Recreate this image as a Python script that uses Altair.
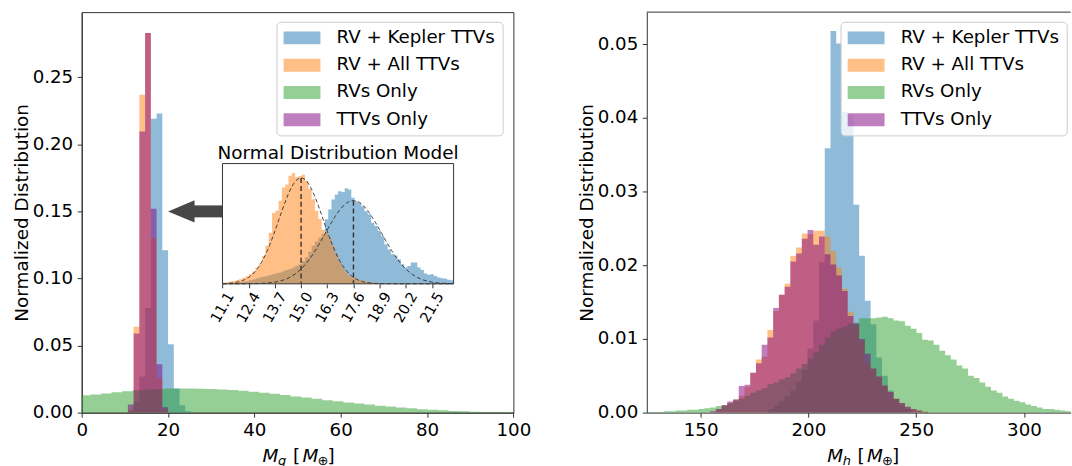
import altair as alt
import pandas as pd

FONT = "DejaVu Sans"
INK = "#333333"
ARROW_INK = "#474747"

SERIES = ["RV + Kepler TTVs", "RV + All TTVs", "RVs Only", "TTVs Only"]
COLORS = ["#1f77b4", "#ff7f0e", "#2ca02c", "#800080"]

# ---------------- Left panel (M_g) ----------------
LEFT_BIN_START = 10.7
LEFT_BIN_WIDTH = 1.33
left_kepler = [0.001, 0.008, 0.027, 0.078, 0.219, 0.223, 0.121, 0.051, 0.018, 0.0055, 0.001]
left_all = [0.002, 0.064, 0.237, 0.283, 0.130, 0.026, 0.002]
left_ttv = [0.006, 0.059, 0.2095, 0.283, 0.152, 0.036, 0.004]
LEFT_RV_START = -0.4
LEFT_RV_WIDTH = 2.44
left_rv = [0.0130, 0.0135, 0.0143, 0.0152, 0.0160, 0.0166, 0.0172, 0.0176, 0.0180, 0.0180,
           0.0179, 0.0178, 0.0177, 0.0173, 0.0168, 0.0163, 0.0156, 0.0148, 0.0140, 0.0131,
           0.0121, 0.0112, 0.0103, 0.0093, 0.0085, 0.0076, 0.0068, 0.0060, 0.0052, 0.0045,
           0.0038, 0.0032, 0.0026, 0.0021, 0.0017, 0.0013, 0.0010, 0.0007, 0.0005, 0.0004,
           0.0003, 0.0002]
LEFT_X_DOMAIN = [0, 100]
LEFT_Y_DOMAIN = [0, 0.2985]
LEFT_X_TICKS = [0, 20, 40, 60, 80, 100]
LEFT_Y_TICKS = [0.0, 0.05, 0.10, 0.15, 0.20, 0.25]

# ---------------- Right panel (M_h) ----------------
RIGHT_BIN_ORIGIN = 199.6
RIGHT_BIN_WIDTH = 2.66
right_kepler_first = -7
right_kepler = [0.0005, 0.001, 0.0015, 0.0022, 0.003, 0.0042, 0.0058, 0.0087, 0.0125, 0.0204,
                0.0359, 0.0518, 0.0501, 0.0408, 0.0405, 0.0282, 0.0213, 0.0152, 0.012, 0.0075,
                0.005, 0.003, 0.0018, 0.001, 0.0005]
right_all_first = -16
right_all = [0.0005, 0.001, 0.0013, 0.0017, 0.0023, 0.0035, 0.0054, 0.0072, 0.0076, 0.0112,
             0.0138, 0.016, 0.0175, 0.0213, 0.0224, 0.0243, 0.0242, 0.0247, 0.0247, 0.0239,
             0.0219, 0.0197, 0.0168, 0.0137, 0.0118, 0.0097, 0.0067, 0.006, 0.0049, 0.0037,
             0.0028, 0.0019, 0.0013, 0.0008, 0.0005, 0.0003, 0.0002, 0.0001]
right_rv_first = -28
right_rv = [0.0001, 0.0001, 0.0001, 0.0002, 0.0002, 0.0003, 0.0003, 0.0004, 0.0004, 0.0005,
            0.0006, 0.0007, 0.0009, 0.001, 0.0013, 0.0016, 0.0019, 0.0023, 0.0027, 0.003,
            0.0033, 0.0039, 0.0041, 0.0045, 0.0048, 0.0053, 0.006, 0.0066, 0.0073, 0.0082,
            0.0092, 0.0102, 0.011, 0.0114, 0.0117, 0.0121, 0.0122, 0.0128, 0.0128, 0.0128,
            0.0129, 0.013, 0.0128, 0.0125, 0.0124, 0.0118, 0.0114, 0.0108, 0.0099, 0.0098,
            0.0092, 0.0084, 0.0078, 0.0072, 0.0064, 0.006, 0.005, 0.0047, 0.0041, 0.0035,
            0.003, 0.0027, 0.0022, 0.0019, 0.0016, 0.0014, 0.0011, 0.0009, 0.0007, 0.0005,
            0.0005, 0.0004, 0.0003, 0.0002, 0.0002]
right_ttv_first = -17
right_ttv = [0.0002, 0.0005, 0.001, 0.0015, 0.0018, 0.0036, 0.0038, 0.0054, 0.0067, 0.0092,
             0.0102, 0.0142, 0.016, 0.0171, 0.0205, 0.0216, 0.0236, 0.0248, 0.0228, 0.0239,
             0.0215, 0.0201, 0.0186, 0.0165, 0.0131, 0.0121, 0.0100, 0.0080, 0.0060, 0.0049,
             0.0037, 0.0028, 0.0019, 0.0013, 0.0008, 0.0005, 0.0003, 0.0001]
RIGHT_X_DOMAIN = [125, 321.7]
RIGHT_Y_DOMAIN = [0, 0.05436]
RIGHT_X_TICKS = [150, 200, 250, 300]
RIGHT_Y_TICKS = [0.0, 0.01, 0.02, 0.03, 0.04, 0.05]

# ---------------- Inset (Normal Distribution Model) ----------------
INSET_START = 11.1
INSET_WIDTH = 0.1639
inset_all = [0.004, 0.005, 0.008, 0.010, 0.013, 0.016, 0.021, 0.026, 0.034, 0.042,
             0.055, 0.070, 0.095, 0.130, 0.175, 0.243, 0.250, 0.285, 0.330, 0.340,
             0.370, 0.380, 0.365, 0.369, 0.374, 0.352, 0.325, 0.290, 0.250, 0.222,
             0.185, 0.175, 0.158, 0.130, 0.101, 0.076, 0.056, 0.039, 0.028, 0.022,
             0.018, 0.014, 0.011, 0.008, 0.006, 0.005, 0.003, 0.002, 0.002, 0.001]
inset_kepler = [0.0, 0.0, 0.002, 0.003, 0.004, 0.005, 0.007, 0.009, 0.012, 0.015,
                0.018, 0.022, 0.024, 0.027, 0.030, 0.033, 0.036, 0.039, 0.043, 0.047,
                0.051, 0.056, 0.062, 0.067, 0.078, 0.090, 0.110, 0.130, 0.145, 0.158,
                0.170, 0.221, 0.255, 0.289, 0.306, 0.317, 0.315, 0.327, 0.323, 0.295,
                0.283, 0.278, 0.266, 0.249, 0.238, 0.209, 0.198, 0.181, 0.164, 0.135,
                0.118, 0.101, 0.096, 0.084, 0.067, 0.056, 0.061, 0.073, 0.073, 0.056,
                0.047, 0.035, 0.031, 0.033, 0.027, 0.022, 0.019, 0.018, 0.014, 0.012]
INSET_X_DOMAIN = [11.1, 22.57]
INSET_Y_DOMAIN = [0, 0.412]
INSET_TICKS = [11.1, 12.4, 13.7, 15.0, 16.3, 17.6, 18.9, 20.2, 21.5]
MODEL_MU = [15.0, 17.6]
MODEL_SIGMA = [1.1, 1.4]
INSET_TITLE = "Normal Distribution Model"

# arrow annotation (data coordinates of left panel)
ARROW_TIP = 20.0
ARROW_HEAD_BASE = 26.15
ARROW_TAIL = 32.6
ARROW_Y = 0.15

# ---------------- layout (pixels) ----------------
LW, LH = 433.3, 402
RW, RH = 425.5, 402
INSET_X_RANGE = [141.3, 373.3]
INSET_Y_RANGE = [272.7, 152.0]


def hist_frame(name, start, width, values):
    edges = [start + i * width for i in range(len(values) + 1)]
    vals = list(values) + [0.0]
    return pd.DataFrame({"series": name, "edge": edges, "value": vals})


PATH = "M-1,-0.72L3.11,-0.72L3.11,0.72L-1,0.72Z"


def make_legend(x):
    return alt.Legend(
        title=None, orient="none", legendX=x, legendY=9.7,
        symbolType=PATH, symbolSize=324, symbolOpacity=0.5, symbolStrokeWidth=0,
        labelFont=FONT, labelFontSize=18.3, labelColor="black", labelOffset=35,
        padding=7, rowPadding=8.4, fillColor="rgba(255,255,255,0.8)",
        strokeColor="#cccccc", cornerRadius=4,
    )


CSCALE = alt.Scale(domain=SERIES, range=COLORS)


def area_hist(df, xs, ys, xax, yax, leg):
    return alt.Chart(df).mark_area(interpolate="step-after", opacity=0.5, clip=True).encode(
        x=alt.X("edge:Q", scale=xs, axis=xax),
        y=alt.Y("value:Q", scale=ys, axis=yax, stack=None),
        color=alt.Color("series:N", scale=CSCALE, legend=leg),
    )


def xtitle_layers(sub, cx, base):
    pieces = [
        ("M", -35.0, 0.0, 18.5, "italic"),
        (sub, -19.5, 3.5, 13.0, "italic"),
        ("[", -4.5, 0.0, 18.5, "normal"),
        ("M", 5.0, 0.0, 18.5, "italic"),
        ("\u2295", 20.0, 3.5, 13.0, "normal"),
        ("]", 30.0, 0.0, 18.5, "normal"),
    ]
    out = []
    for txt, dx, dy, size, style in pieces:
        out.append(
            alt.Chart(alt.Data(values=[{"t": txt}])).mark_text(
                font=FONT, fontSize=size, fontStyle=style, align="left",
                baseline="alphabetic", color="black",
            ).encode(x=alt.value(cx + dx), y=alt.value(base + dy), text="t:N")
        )
    return out


# ---------------- Left panel ----------------
lxs = alt.Scale(domain=LEFT_X_DOMAIN, nice=False, zero=False)
lys = alt.Scale(domain=LEFT_Y_DOMAIN, nice=False)
lxax = alt.Axis(values=LEFT_X_TICKS, title=None, format="d", labelFlush=False)
lyax = alt.Axis(values=LEFT_Y_TICKS, format=".2f", title="Normalized Distribution", titlePadding=1)
lleg = make_legend(195.5)

left_layers = [
    area_hist(hist_frame(SERIES[0], LEFT_BIN_START, LEFT_BIN_WIDTH, left_kepler), lxs, lys, lxax, lyax, lleg),
    area_hist(hist_frame(SERIES[1], LEFT_BIN_START, LEFT_BIN_WIDTH, left_all), lxs, lys, lxax, lyax, lleg),
    area_hist(hist_frame(SERIES[2], LEFT_RV_START, LEFT_RV_WIDTH, left_rv), lxs, lys, lxax, lyax, lleg),
    area_hist(hist_frame(SERIES[3], LEFT_BIN_START, LEFT_BIN_WIDTH, left_ttv), lxs, lys, lxax, lyax, lleg),
]

shaft = alt.Chart(pd.DataFrame([{"x": ARROW_HEAD_BASE - 0.2, "x2": ARROW_TAIL, "y": ARROW_Y}])).mark_rule(
    strokeWidth=12, color=ARROW_INK
).encode(
    x=alt.X("x:Q", scale=lxs, axis=lxax), x2="x2:Q", y=alt.Y("y:Q", scale=lys, axis=lyax)
)
head_w = (ARROW_HEAD_BASE - ARROW_TIP) * LW / (LEFT_X_DOMAIN[1] - LEFT_X_DOMAIN[0])
head = alt.Chart(pd.DataFrame([{"x": (ARROW_TIP + ARROW_HEAD_BASE) / 2, "y": ARROW_Y}])).mark_point(
    shape="M-1,0L1,-0.83L1,0.83Z", size=head_w * head_w, filled=True, opacity=1,
    color=ARROW_INK, strokeWidth=0,
).encode(x=alt.X("x:Q", scale=lxs, axis=lxax), y=alt.Y("y:Q", scale=lys, axis=lyax))

main_left = alt.layer(*left_layers, shaft, head, *xtitle_layers("g", 216.6, 451.2))

# inset
ixs = alt.Scale(domain=INSET_X_DOMAIN, range=INSET_X_RANGE, nice=False, zero=False)
iys = alt.Scale(domain=INSET_Y_DOMAIN, range=INSET_Y_RANGE, nice=False, zero=False)
ixax = alt.Axis(
    orient="bottom", offset=-(LH - INSET_Y_RANGE[0]), values=INSET_TICKS, format=".1f",
    labelAngle=300, labelAlign="center", labelBaseline="middle", labelFontSize=14.5,
    labelOverlap=False, labelFlush=False, labelBound=False,
    tickSize=4, labelPadding=19.5, domain=False, grid=False, title=None,
)
frame_df = pd.DataFrame([{"x": INSET_X_DOMAIN[0], "x2": INSET_X_DOMAIN[1],
                          "y": INSET_Y_DOMAIN[0], "y2": INSET_Y_DOMAIN[1]}])
frame_fill = alt.Chart(frame_df).mark_rect(fill="white", strokeWidth=0).encode(
    x=alt.X("x:Q", scale=ixs, axis=ixax), x2="x2:Q",
    y=alt.Y("y:Q", scale=iys, axis=None), y2="y2:Q")
frame_line = alt.Chart(frame_df).mark_rect(fill=None, fillOpacity=0, stroke=INK, strokeWidth=1).encode(
    x=alt.X("x:Q", scale=ixs, axis=ixax), x2="x2:Q",
    y=alt.Y("y:Q", scale=iys, axis=None), y2="y2:Q")


def inset_hist(values, color):
    df = hist_frame("inset", INSET_START, INSET_WIDTH, values)
    return alt.Chart(df).mark_area(interpolate="step-after", opacity=0.5, color=color).encode(
        x=alt.X("edge:Q", scale=ixs, axis=ixax),
        y=alt.Y("value:Q", scale=iys, axis=None, stack=None))


gauss = []
for mu, sigma in zip(MODEL_MU, MODEL_SIGMA):
    gauss.append(
        alt.Chart(alt.sequence(INSET_X_DOMAIN[0], INSET_X_DOMAIN[1] + 0.01, 0.05, as_="x"))
        .transform_calculate(d=f"exp(-0.5*pow((datum.x-{mu})/{sigma},2))/({sigma}*sqrt(2*PI))")
        .mark_line(color="#222222", strokeDash=[4, 2.5], strokeWidth=1, opacity=0.85)
        .encode(x=alt.X("x:Q", scale=ixs, axis=ixax), y=alt.Y("d:Q", scale=iys, axis=None))
    )

means = alt.Chart(pd.DataFrame({"mu": MODEL_MU, "sigma": MODEL_SIGMA})).transform_calculate(
    top="1/(datum.sigma*sqrt(2*PI))", base="0"
).mark_rule(strokeDash=[5, 3], strokeWidth=1.4, color="#333333").encode(
    x=alt.X("mu:Q", scale=ixs, axis=ixax),
    y=alt.Y("top:Q", scale=iys, axis=None), y2="base:Q")

inset_title = alt.Chart(pd.DataFrame([{"x": sum(INSET_X_DOMAIN) / 2, "y": INSET_Y_DOMAIN[1], "t": INSET_TITLE}])).mark_text(
    font=FONT, fontSize=18.5, baseline="alphabetic", dy=-5, color="black"
).encode(x=alt.X("x:Q", scale=ixs, axis=ixax), y=alt.Y("y:Q", scale=iys, axis=None), text="t:N")

inset = alt.layer(
    frame_fill,
    inset_hist(inset_kepler, COLORS[0]),
    inset_hist(inset_all, COLORS[1]),
    *gauss, means, frame_line, inset_title,
)

left = alt.layer(main_left, inset).resolve_scale(x="independent", y="independent").properties(
    width=LW, height=LH)

# ---------------- Right panel ----------------
rxs = alt.Scale(domain=RIGHT_X_DOMAIN, nice=False, zero=False)
rys = alt.Scale(domain=RIGHT_Y_DOMAIN, nice=False)
rxax = alt.Axis(values=RIGHT_X_TICKS, title=None, format="d", labelFlush=False)
ryax = alt.Axis(values=RIGHT_Y_TICKS, format=".2f", title="Normalized Distribution", titlePadding=1)
rleg = make_legend(194.5)


def rstart(first):
    return RIGHT_BIN_ORIGIN + first * RIGHT_BIN_WIDTH


right_layers = [
    area_hist(hist_frame(SERIES[0], rstart(right_kepler_first), RIGHT_BIN_WIDTH, right_kepler), rxs, rys, rxax, ryax, rleg),
    area_hist(hist_frame(SERIES[1], rstart(right_all_first), RIGHT_BIN_WIDTH, right_all), rxs, rys, rxax, ryax, rleg),
    area_hist(hist_frame(SERIES[2], rstart(right_rv_first), RIGHT_BIN_WIDTH, right_rv), rxs, rys, rxax, ryax, rleg),
    area_hist(hist_frame(SERIES[3], rstart(right_ttv_first), RIGHT_BIN_WIDTH, right_ttv), rxs, rys, rxax, ryax, rleg),
]
top_spine = alt.Chart(pd.DataFrame([{"x": RIGHT_X_DOMAIN[0], "x2": RIGHT_X_DOMAIN[1], "y": RIGHT_Y_DOMAIN[1]}])).mark_rule(
    color=INK, strokeWidth=1
).encode(x=alt.X("x:Q", scale=rxs, axis=rxax), x2="x2:Q", y=alt.Y("y:Q", scale=rys, axis=ryax))

right = alt.layer(*right_layers, top_spine, *xtitle_layers("h", 216.1, 451.2)).properties(
    width=RW, height=RH, view=alt.ViewBackground(stroke=None))

chart = alt.hconcat(
    left, right, spacing=133.2, bounds="flush",
    padding={"left": 11, "top": 10.3, "right": 0, "bottom": 0},
).resolve_scale(color="independent").resolve_legend(color="independent")

chart = chart.configure_axis(
    labelFont=FONT, titleFont=FONT, labelFontSize=18.3, titleFontSize=18.5,
    titleFontWeight="normal", labelColor="black", titleColor="black",
    domainColor=INK, tickColor=INK, tickSize=4.5, labelPadding=4.5, grid=False,
    domainWidth=1, tickWidth=1,
).configure_view(stroke=INK, strokeWidth=1)

chart.save("out.html", embed_options={"renderer": "svg", "actions": False})
